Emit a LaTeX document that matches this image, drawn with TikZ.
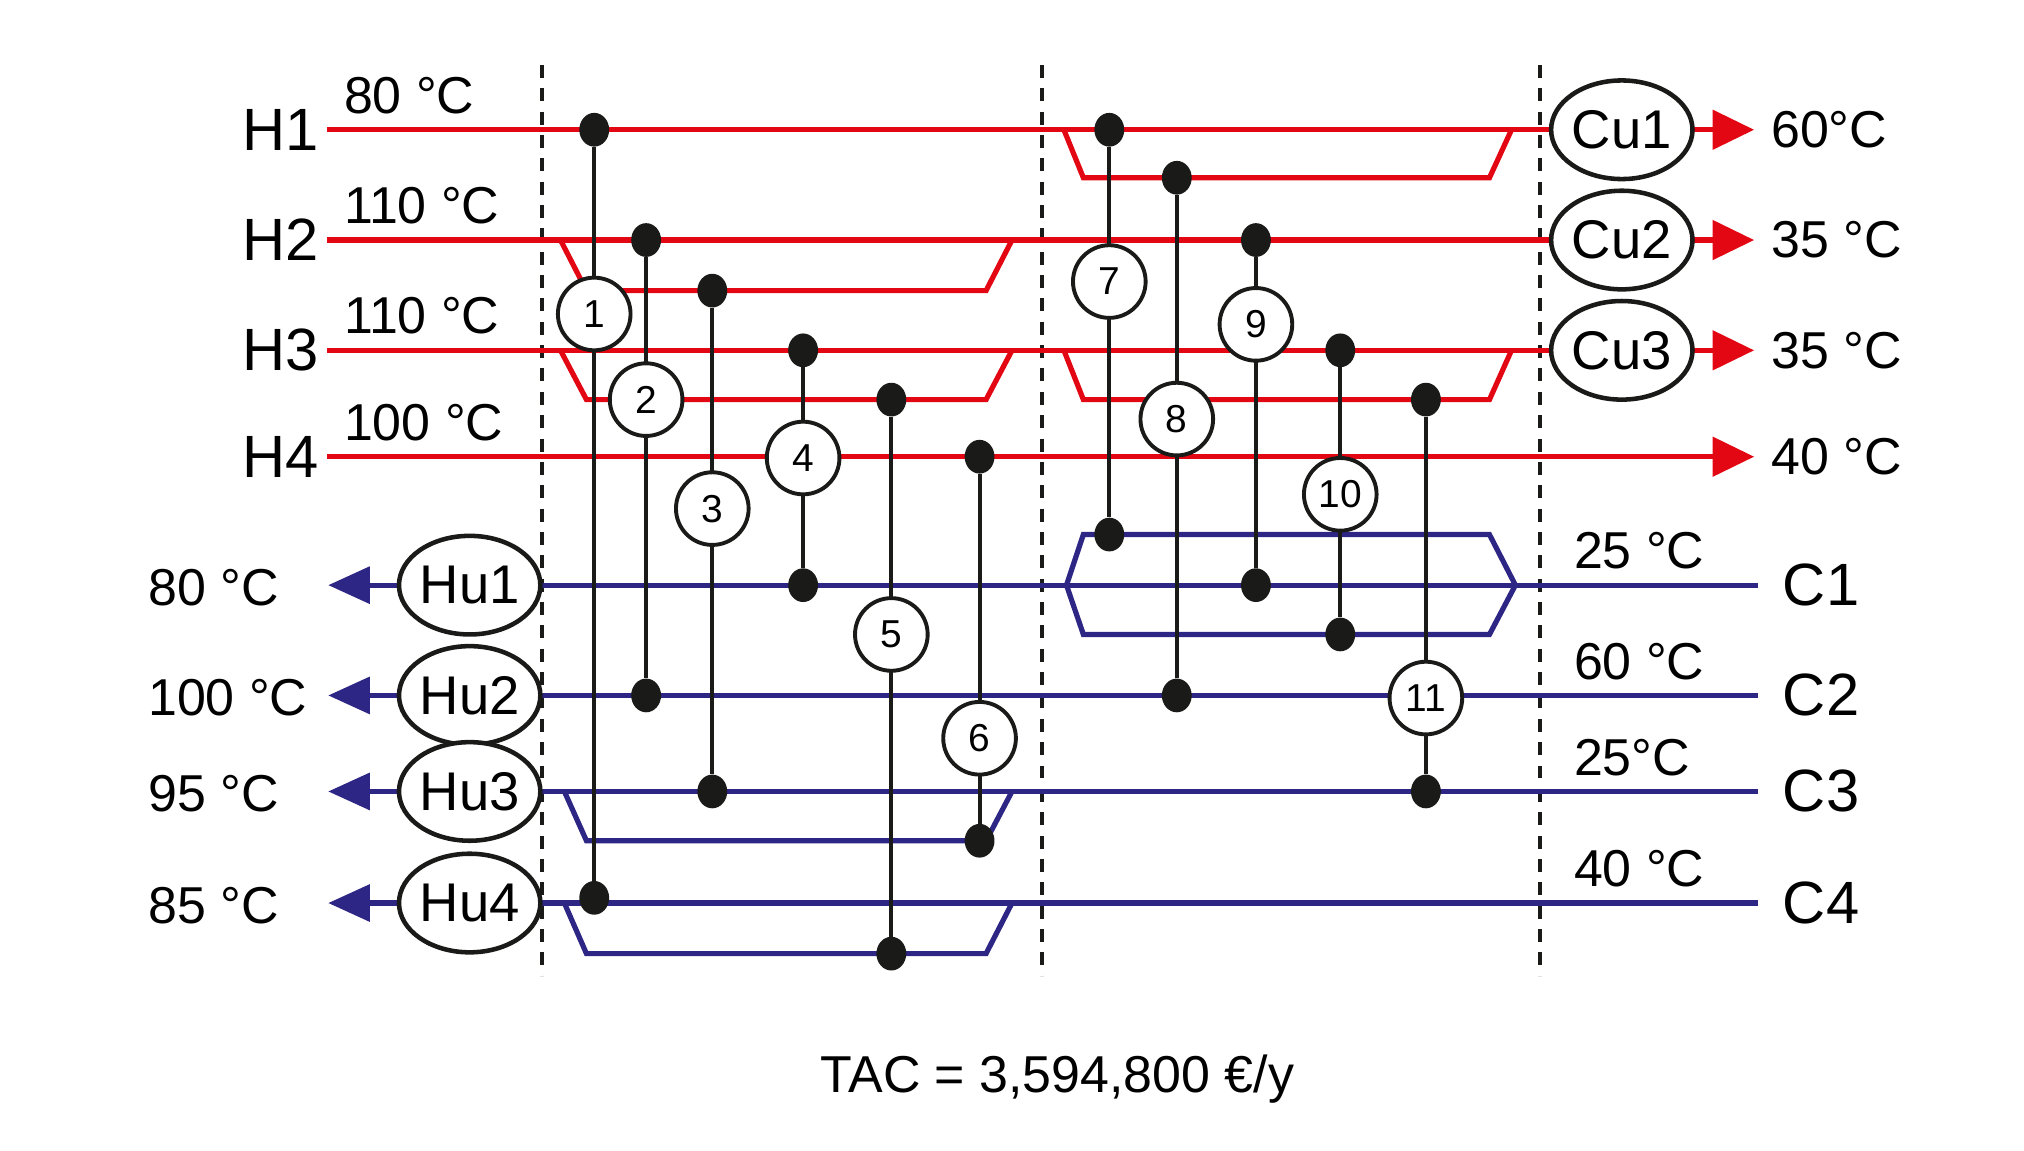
\documentclass[tikz,border=0pt]{standalone}
\usepackage{fontspec}
\setmainfont{Liberation Sans}
\usetikzlibrary{arrows.meta,shapes.geometric}
\definecolor{hred}{RGB}{227,6,19}
\definecolor{cblue}{RGB}{46,38,132}
\definecolor{ink}{RGB}{26,26,24}
\newcommand\hxu[6]{%
 \node[dot] (#1t) at (#2,#3) {};
 \node[dot] (#1b) at (#2,#4) {};
 \draw[hxl] (#1t) -- (#1b);
 \node[hxc] (#1) at (#2,#5) {#6};}
\begin{document}
\begin{tikzpicture}[x=1pt,y=-1pt,
 hot/.style={draw=hred,line width=4pt},
 cold/.style={draw=cblue,line width=4pt},
 hxl/.style={draw=ink,line width=3pt},
 dot/.style={ellipse,fill=ink,minimum width=23pt,minimum height=26pt,inner sep=0pt},
 hxc/.style={circle,draw=ink,line width=3pt,fill=white,minimum size=56pt,inner sep=0pt,font=\fontsize{30}{32}\selectfont},
 util/.style={ellipse,draw=ink,line width=3.5pt,fill=white,minimum width=92pt,minimum height=76pt,inner sep=0pt,font=\fontsize{42}{44}\selectfont},
 big/.style={font=\fontsize{46}{50}\selectfont,inner sep=0pt},
 tmp/.style={font=\fontsize{40}{44}\selectfont,inner sep=0pt},
 harr/.style={-{Triangle[length=32pt,width=30pt]}},
 bnd/.style={draw=ink,line width=3pt,dash pattern=on 10pt off 8pt}]
\useasboundingbox (0,0) rectangle (1560,887);
% dashed boundaries
\foreach \x/\n in {418/da,803/db,1187/dc}{
 \coordinate (\n t) at (\x,50); \coordinate (\n b) at (\x,752);
 \draw[bnd] (\n t) -- (\n b);}
% hot streams
\foreach \n/\y/\t/\o in {1/100/80 °C/60°C,2/185/110 °C/35 °C,3/270/110 °C/35 °C,4/352/100 °C/40 °C}{
 \node[big,anchor=east] (Hl\n) at (246,\y) {H\n};
 \node[tmp,anchor=south west] (Ht\n) at (265,\y-12) {\t};
 \coordinate (Hs\n) at (252,\y);
 \coordinate (He\n) at (1352,\y);
 \node[tmp,anchor=west] (Ho\n) at (1365,\y) {\o};
 \draw[hot,harr] (Hs\n) -- (He\n);
}
% cold streams
\foreach \n/\y/\t/\o in {1/451/25 °C/80 °C,2/536/60 °C/100 °C,3/610/25°C/95 °C,4/696/40 °C/85 °C}{
 \node[big,anchor=west] (Cl\n) at (1374,\y) {C\n};
 \node[tmp,anchor=south west] (Ct\n) at (1213,\y-12) {\t};
 \coordinate (Cs\n) at (1355,\y);
 \coordinate (Ce\n) at (253,\y);
 \node[tmp,anchor=west] (Co\n) at (114,\y+2) {\o};
 \draw[cold,-{Triangle[length=32pt,width=28pt]}] (Cs\n) -- (Ce\n);
}
% splits
\draw[hot] (820,100) -- (835,137) -- (1148,137) -- (1165,100);
\draw[hot] (432,185) -- (452,224) -- (760,224) -- (780,185);
\draw[hot] (432,270) -- (452,308) -- (760,308) -- (780,270);
\draw[hot] (820,270) -- (835,308) -- (1148,308) -- (1165,270);
\draw[cold] (822,451) -- (835,412) -- (1148,412) -- (1168,451) -- (1148,489) -- (835,489) -- cycle;
\draw[cold] (435,610) -- (452,648) -- (760,648) -- (780,610);
\draw[cold] (435,696) -- (452,735) -- (760,735) -- (780,696);
% utilities
\foreach \n/\y in {1/100,2/185,3/270}{\node[util] (Cu\n) at (1250,\y) {Cu\n};}
\foreach \n/\y in {1/451,2/536,3/610,4/696}{\node[util] (Hu\n) at (362,\y) {Hu\n};}
% exchangers
\hxu{E1}{458}{100}{692}{242}{1}
\hxu{E2}{498}{185}{536}{308}{2}
\hxu{E3}{549}{224}{610}{392}{3}
\hxu{E4}{619}{270}{451}{353}{4}
\hxu{E5}{687}{308}{735}{489}{5}
\hxu{E6}{755}{352}{648}{569}{6}
\hxu{E7}{855}{100}{412}{217}{7}
\hxu{E8}{907}{137}{536}{323}{8}
\hxu{E9}{968}{185}{451}{250}{9}
\hxu{E10}{1033}{270}{489}{381}{10}
\hxu{E11}{1099}{308}{610}{538}{11}
\node[tmp] (tac) at (815,832) {TAC = 3,594,800 €/y};
\end{tikzpicture}
\end{document}
